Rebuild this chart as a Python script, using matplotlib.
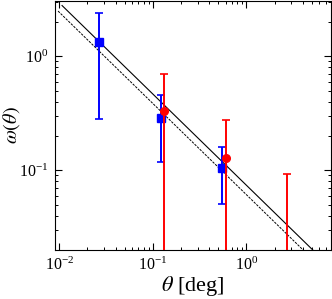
import matplotlib
matplotlib.use("Agg")
import matplotlib.pyplot as plt
import numpy as np

# ─── Data ─────────────────────────────────────────────────────────────────────

# blue squares
theta_b = [0.0268, 0.123, 0.549]
w_b = [1.34, 0.29, 0.105]
w_b_lo = [0.282, 0.1175, 0.0503]
w_b_hi = [2.40, 0.461, 0.161]

# red circles (last point sits below the plotted range)
theta_r = [0.133, 0.611, 2.69]
w_r = [0.334, 0.127, 0.005]
w_r_lo = [1e-4, 1e-4, 1e-4]
w_r_hi = [0.705, 0.277, 0.092]

# power-law fits  w = A * theta^slope
fit_slope = -0.8
fit_solid_A = 0.0738
fit_dashed_A = 0.061

# ─── Chart ────────────────────────────────────────────────────────────────────

plt.rcParams["font.family"] = ["Liberation Serif", "DejaVu Serif"]
plt.rcParams["mathtext.fontset"] = "stix"

fig = plt.figure(figsize=(3.32, 2.99), dpi=100)
ax = fig.add_axes([0.1657, 0.1639, 0.8313, 0.8328])
ax.set_xscale("log")
ax.set_yscale("log")

t1 = np.logspace(np.log10(0.0107), 1, 50)
t2 = np.logspace(np.log10(0.0097), 1, 50)
ax.plot(t1, fit_solid_A * t1 ** fit_slope, color="black", lw=0.8)
ax.plot(t2, fit_dashed_A * t2 ** fit_slope, color="black", lw=0.7, ls=(0, (2.5, 1.2)))

wb = np.array(w_b)
ax.errorbar(theta_b, wb, yerr=[wb - np.array(w_b_lo), np.array(w_b_hi) - wb],
            fmt="s", color="blue", ms=5.5, lw=1.4, capsize=3, capthick=1.2, zorder=3)
wr = np.array(w_r)
ax.errorbar(theta_r, wr, yerr=[wr - np.array(w_r_lo), np.array(w_r_hi) - wr],
            fmt="o", color="red", ms=5.5, lw=1.4, capsize=3, capthick=1.2, zorder=4)

ax.set_xlim(0.009, 8)
ax.set_ylim(0.02, 3.05)
ax.set_xlabel(r"$\theta$ [deg]", fontsize=16, labelpad=0)
ax.set_ylabel(r"$\omega(\theta)$", fontsize=14.5)
ax.yaxis.set_label_coords(-0.12, 0.5)

ax.tick_params(which="both", direction="in", top=True, right=True, labelsize=11.5)
ax.tick_params(which="major", length=5, width=0.8, pad=5)
ax.tick_params(which="minor", length=2.5, width=0.7)
for s in ax.spines.values():
    s.set_linewidth(0.8)

plt.savefig("out.png", dpi=100)
plt.close()
